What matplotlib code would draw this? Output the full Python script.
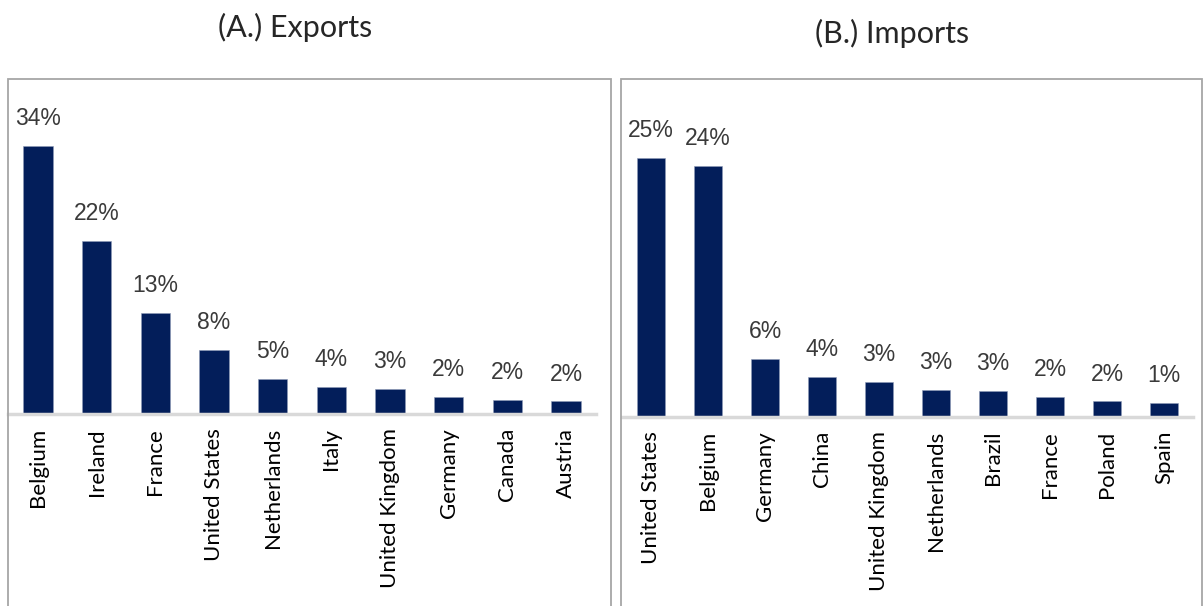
import matplotlib
matplotlib.use("Agg")
import matplotlib.pyplot as plt
from matplotlib.patches import Rectangle

exp_countries = ["Belgium", "Ireland", "France", "United States", "Netherlands",
                 "Italy", "United Kingdom", "Germany", "Canada", "Austria"]
exp_values = [34.0, 22.0, 12.8, 8.1, 4.4, 3.4, 3.2, 2.2, 1.8, 1.6]
exp_labels = ["34%", "22%", "13%", "8%", "5%", "4%", "3%", "2%", "2%", "2%"]

imp_countries = ["United States", "Belgium", "Germany", "China", "United Kingdom",
                 "Netherlands", "Brazil", "France", "Poland", "Spain"]
imp_values = [25.0, 24.2, 5.6, 3.9, 3.4, 2.6, 2.5, 1.9, 1.5, 1.35]
imp_labels = ["25%", "24%", "6%", "4%", "3%", "3%", "3%", "2%", "2%", "1%"]

W, H = 1203, 606
fig = plt.figure(figsize=(W / 100, H / 100), dpi=100)

BAR = "#031E5A"
LBL = "#3a3a3a"
TICKFONT = "Lato"
LBLFONT = "Liberation Sans"


def px_axes(x0, x1, ybase, ytop):
    return fig.add_axes([x0 / W, (H - ybase) / H, (x1 - x0) / W, (ybase - ytop) / H])


def draw(ax, cats, vals, labels, ymax):
    x = range(len(cats))
    ax.bar(x, vals, width=0.5, color=BAR, edgecolor="#8f9bb8", linewidth=0.4)
    ax.set_xlim(-0.51, len(cats) - 0.49)
    ax.set_ylim(0, ymax)
    ax.set_xticks(list(x))
    ax.set_xticklabels(cats, rotation=90, fontsize=16, fontfamily=TICKFONT, color="black")
    ax.tick_params(axis="x", length=0, pad=10)
    ax.set_yticks([])
    for s in ["top", "left", "right"]:
        ax.spines[s].set_visible(False)
    ax.spines["bottom"].set_color("#d9d9d9")
    ax.spines["bottom"].set_linewidth(2.5)
    ax.patch.set_alpha(0)
    for xi, v, t in zip(x, vals, labels):
        ax.annotate(t, (xi, v), xytext=(0, 15), textcoords="offset points",
                    ha="center", va="baseline", fontsize=16.5, color=LBL,
                    fontfamily=LBLFONT)


ax1 = px_axes(8, 596, 414, 79)
draw(ax1, exp_countries, exp_values, exp_labels, (414 - 79) / 7.88)
ax2 = px_axes(622, 1193, 417, 79)
draw(ax2, imp_countries, imp_values, imp_labels, (417 - 79) / 10.36)

# panel borders
for x0, x1 in [(8, 611), (621, 1202)]:
    fig.patches.append(Rectangle((x0 / W, -0.01), (x1 - x0) / W, (H - 79) / H + 0.01,
                                 transform=fig.transFigure, fill=False,
                                 edgecolor="#a6a6a6", linewidth=1.3))

fig.text(295 / W, 1 - 27 / H, "(A.) Exports", ha="center", va="center",
         fontsize=22, fontfamily=TICKFONT, color="#262626")
fig.text(892 / W, 1 - 33 / H, "(B.) Imports", ha="center", va="center",
         fontsize=22, fontfamily=TICKFONT, color="#262626")

fig.savefig("out.png", dpi=100)
